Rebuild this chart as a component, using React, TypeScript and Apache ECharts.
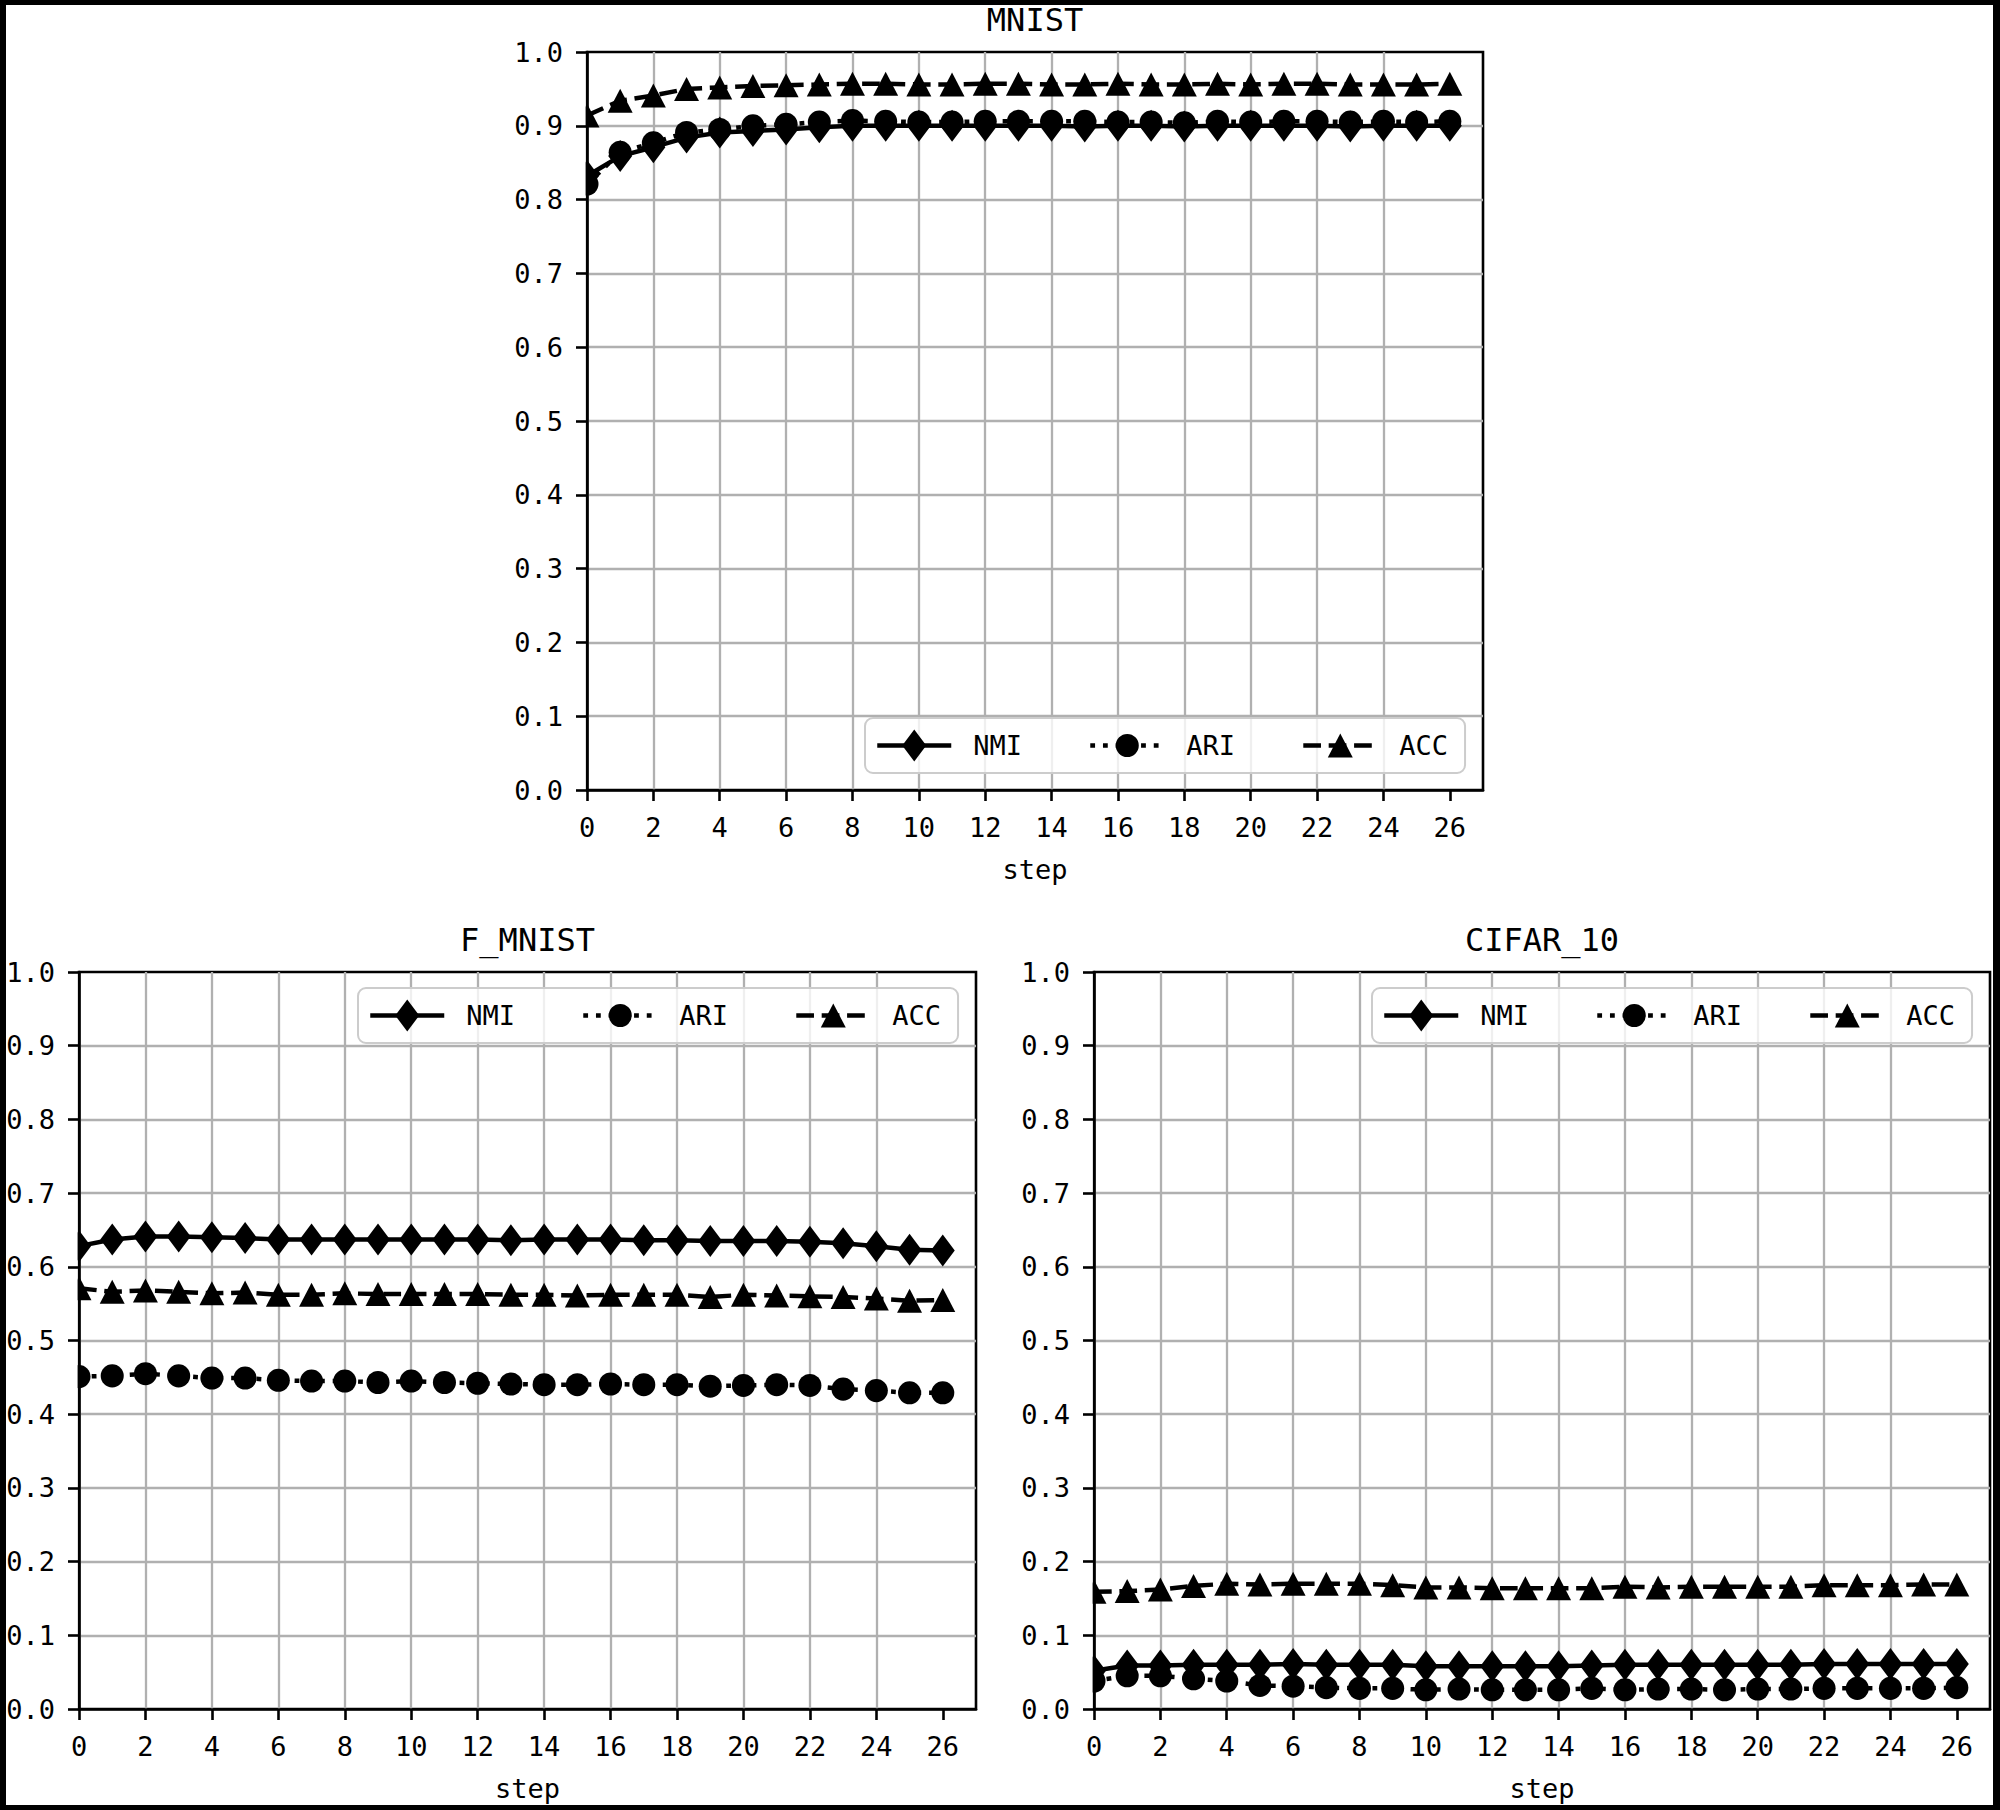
import React, { useEffect, useRef } from 'react';
import * as echarts from 'echarts';

const steps = [0, 1, 2, 3, 4, 5, 6, 7, 8, 9, 10, 11, 12, 13, 14, 15, 16, 17, 18, 19, 20, 21, 22, 23, 24, 25, 26];
const xTickValues = [0, 2, 4, 6, 8, 10, 12, 14, 16, 18, 20, 22, 24, 26];
const seriesNames = ['NMI', 'ARI', 'ACC'];
const panelTitles = ['MNIST', 'F_MNIST', 'CIFAR_10'];
const xAxisName = 'step';

const mnistNMI = [0.832, 0.859, 0.871, 0.884, 0.891, 0.893, 0.895, 0.898, 0.900, 0.900, 0.900, 0.900, 0.900, 0.900, 0.900, 0.899, 0.900, 0.900, 0.899, 0.900, 0.900, 0.900, 0.900, 0.899, 0.900, 0.900, 0.900];
const mnistARI = [0.821, 0.864, 0.877, 0.891, 0.895, 0.900, 0.902, 0.905, 0.907, 0.906, 0.905, 0.905, 0.906, 0.906, 0.906, 0.906, 0.905, 0.905, 0.904, 0.906, 0.905, 0.906, 0.906, 0.905, 0.906, 0.905, 0.906];
const mnistACC = [0.914, 0.934, 0.941, 0.950, 0.952, 0.954, 0.955, 0.956, 0.957, 0.957, 0.956, 0.956, 0.957, 0.957, 0.956, 0.956, 0.957, 0.956, 0.956, 0.957, 0.956, 0.957, 0.957, 0.956, 0.956, 0.956, 0.957];

const fmnistNMI = [0.628, 0.637, 0.641, 0.641, 0.640, 0.639, 0.637, 0.637, 0.637, 0.637, 0.637, 0.637, 0.637, 0.636, 0.637, 0.637, 0.637, 0.636, 0.636, 0.635, 0.635, 0.635, 0.634, 0.632, 0.628, 0.623, 0.622];
const fmnistARI = [0.451, 0.452, 0.455, 0.452, 0.449, 0.449, 0.446, 0.445, 0.445, 0.443, 0.445, 0.443, 0.442, 0.441, 0.440, 0.440, 0.441, 0.440, 0.440, 0.438, 0.439, 0.440, 0.439, 0.434, 0.432, 0.429, 0.429];
const fmnistACC = [0.571, 0.566, 0.568, 0.566, 0.564, 0.565, 0.562, 0.562, 0.564, 0.563, 0.563, 0.563, 0.563, 0.562, 0.562, 0.561, 0.562, 0.562, 0.562, 0.559, 0.562, 0.561, 0.560, 0.559, 0.557, 0.554, 0.555];

const cifarNMI = [0.052, 0.059, 0.059, 0.060, 0.060, 0.060, 0.061, 0.060, 0.060, 0.060, 0.058, 0.058, 0.058, 0.058, 0.058, 0.059, 0.060, 0.060, 0.060, 0.060, 0.060, 0.060, 0.061, 0.061, 0.061, 0.061, 0.061];
const cifarARI = [0.038, 0.045, 0.045, 0.041, 0.038, 0.032, 0.031, 0.029, 0.028, 0.028, 0.026, 0.027, 0.026, 0.026, 0.026, 0.028, 0.026, 0.027, 0.027, 0.026, 0.027, 0.027, 0.028, 0.028, 0.028, 0.028, 0.029];
const cifarACC = [0.159, 0.160, 0.162, 0.167, 0.170, 0.169, 0.170, 0.170, 0.170, 0.168, 0.165, 0.165, 0.164, 0.164, 0.164, 0.164, 0.166, 0.165, 0.166, 0.166, 0.166, 0.166, 0.168, 0.168, 0.168, 0.169, 0.169];

const panelData = [
  [mnistNMI, mnistARI, mnistACC],
  [fmnistNMI, fmnistARI, fmnistACC],
  [cifarNMI, cifarARI, cifarACC],
];

// layout (pixels)
const grids = [
  { left: 587, top: 52, width: 896, height: 738 },
  { left: 79, top: 972, width: 897, height: 737 },
  { left: 1094, top: 972, width: 896, height: 737 },
];
const legendPos = [
  { left: 865, top: 718 },
  { left: 358, top: 988 },
  { left: 1372, top: 988 },
];

const FONT = 'DejaVu Sans Mono';
const TICK_FS = 27;
const TITLE_FS = 32;
const LW = 4.5;
const AXW = 2.6;

// symbols with square bounding box (invisible move-to corners) so legend keeps shape
const DIAMOND = 'path://M-1,-1M1,1M0,-1L0.75,0L0,1L-0.75,0Z';
const CIRCLE = 'path://M-1,-1M1,1M-0.72,0A0.72,0.72,0,1,0,0.72,0A0.72,0.72,0,1,0,-0.72,0Z';
const TRIANGLE = 'path://M-1,-1M1,1M0,-0.75L0.78,0.75L-0.78,0.75Z';
const symbols = [DIAMOND, CIRCLE, TRIANGLE];
const dashes: any[] = ['solid', [4.8, 7.9], [17.7, 7.7]];

function buildOption() {
  const grid: any[] = [];
  const xAxis: any[] = [];
  const yAxis: any[] = [];
  const series: any[] = [];
  const title: any[] = [];
  const legend: any[] = [];
  const graphic: any[] = [];

  grids.forEach((g, gi) => {
    grid.push({ ...g, show: true, borderColor: '#000', borderWidth: AXW, backgroundColor: 'transparent', containLabel: false });
    xAxis.push({
      gridIndex: gi,
      type: 'value',
      min: 0,
      max: 27,
      interval: 2,
      z: 0,
      name: xAxisName,
      nameLocation: 'middle',
      nameGap: 66,
      nameTextStyle: { fontFamily: FONT, fontSize: TICK_FS, color: '#000', lineHeight: TICK_FS },
      axisLine: { show: true, onZero: false, lineStyle: { color: '#000', width: AXW } },
      axisTick: { show: true, inside: false, length: 11, lineStyle: { color: '#000', width: AXW }, customValues: xTickValues },
      axisLabel: {
        show: true, margin: 24, fontFamily: FONT, fontSize: TICK_FS, color: '#000', lineHeight: TICK_FS,
        customValues: xTickValues, formatter: (v: number) => String(v),
      },
      splitLine: { show: true, showMinLine: false, showMaxLine: false, lineStyle: { color: '#b0b0b0', width: 2.3 } },
    });
    // labelled y axis drawn above the markers
    yAxis.push({
      gridIndex: gi,
      type: 'value',
      min: 0,
      max: 1,
      interval: 0.1,
      position: 'left',
      z: 10,
      axisLine: { show: true, onZero: false, lineStyle: { color: '#000', width: AXW } },
      axisTick: { show: true, inside: false, length: 11, lineStyle: { color: '#000', width: AXW } },
      axisLabel: {
        show: true, margin: 24, fontFamily: FONT, fontSize: TICK_FS, color: '#000', lineHeight: TICK_FS,
        formatter: (v: number) => v.toFixed(1),
      },
      splitLine: { show: false },
    });
    // grid-line-only y axis drawn below the markers
    yAxis.push({
      gridIndex: gi,
      type: 'value',
      min: 0,
      max: 1,
      interval: 0.1,
      position: 'left',
      z: 0,
      axisLine: { show: false },
      axisTick: { show: false },
      axisLabel: { show: false },
      splitLine: { show: true, showMinLine: false, showMaxLine: false, lineStyle: { color: '#b0b0b0', width: 2.3 } },
    });

    title.push({
      text: panelTitles[gi],
      left: g.left + g.width / 2,
      top: g.top - 48.5,
      textAlign: 'center',
      padding: 0,
      textStyle: { fontFamily: FONT, fontSize: TITLE_FS, fontWeight: 'normal', color: '#000', lineHeight: TITLE_FS },
    });

    legend.push({
      left: legendPos[gi].left,
      top: legendPos[gi].top,
      orient: 'horizontal',
      data: seriesNames,
      itemWidth: 74,
      itemHeight: 40,
      itemGap: 66,
      padding: [11.5, 17, 11.5, 10],
      backgroundColor: 'rgba(255,255,255,0.8)',
      borderColor: '#cccccc',
      borderWidth: 2,
      borderRadius: 8,
      selectedMode: false,
      lineStyle: { width: LW },
      textStyle: { fontFamily: FONT, fontSize: TICK_FS, color: '#000', padding: [0, 0, 0, 17], lineHeight: TICK_FS },
      z: 6,
    });

    seriesNames.forEach((name, si) => {
      const vals = panelData[gi][si];
      series.push({
        type: 'line',
        name,
        xAxisIndex: gi,
        yAxisIndex: gi * 2,
        data: steps.map((s, i) => [s, vals[i]]),
        symbol: symbols[si],
        symbolSize: 32,
        showSymbol: true,
        showAllSymbol: true,
        clip: false,
        z: 2,
        lineStyle: { color: '#000', width: LW, type: dashes[si] },
        itemStyle: { color: '#000', borderWidth: 0 },
        emphasis: { disabled: true },
      });
    });

    // mask to clip markers left of the plot area
    graphic.push({
      type: 'rect',
      z: 5,
      silent: true,
      shape: { x: g.left - 16, y: g.top, width: 14.6, height: g.height },
      style: { fill: '#fff' },
    });
  });

  // outer black frame
  graphic.push({ type: 'rect', z: 100, silent: true, shape: { x: 0, y: 0, width: 2000, height: 5 }, style: { fill: '#000' } });
  graphic.push({ type: 'rect', z: 100, silent: true, shape: { x: 0, y: 1805, width: 2000, height: 5 }, style: { fill: '#000' } });
  graphic.push({ type: 'rect', z: 100, silent: true, shape: { x: 0, y: 0, width: 6, height: 1810 }, style: { fill: '#000' } });
  graphic.push({ type: 'rect', z: 100, silent: true, shape: { x: 1993, y: 0, width: 7, height: 1810 }, style: { fill: '#000' } });

  return {
    animation: false,
    backgroundColor: '#fff',
    textStyle: { fontFamily: FONT },
    title,
    legend,
    grid,
    xAxis,
    yAxis,
    series,
    graphic,
  };
}

export default function App() {
  const ref = useRef<HTMLDivElement>(null);
  useEffect(() => {
    if (!ref.current) return;
    const chart = echarts.init(ref.current, undefined, { renderer: 'svg', width: 2000, height: 1810 });
    chart.setOption(buildOption() as any);
    return () => chart.dispose();
  }, []);
  return (
    <div
      ref={ref}
      style={{ position: 'absolute', left: 0, top: 0, width: 2000, height: 1810, background: '#fff' }}
    />
  );
}
